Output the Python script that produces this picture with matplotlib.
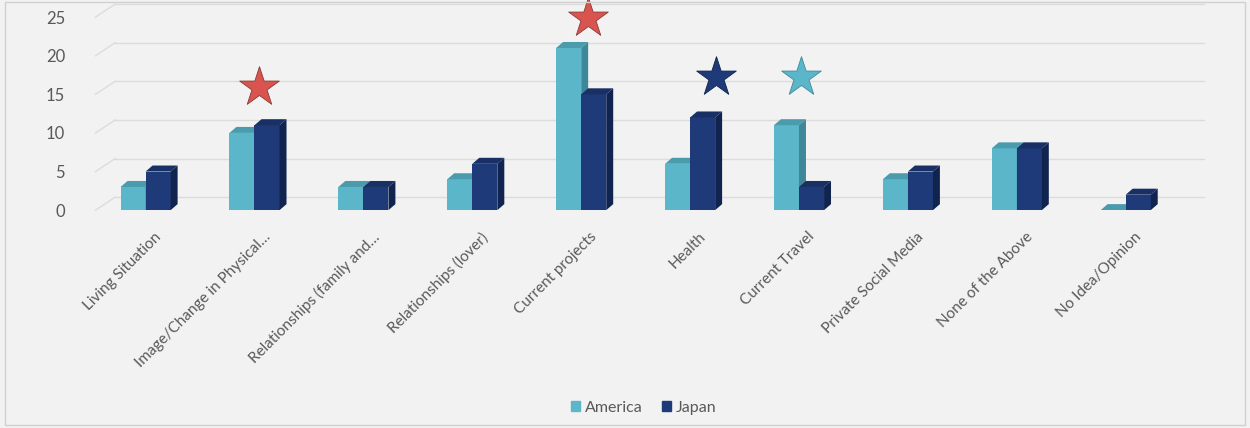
import matplotlib.pyplot as plt
from matplotlib.patches import Polygon, Rectangle
import numpy as np

plt.rcParams["font.family"] = ["Lato", "DejaVu Sans"]

categories = [
    "Living Situation",
    "Image/Change in Physical…",
    "Relationships (family and…",
    "Relationships (lover)",
    "Current projects",
    "Health",
    "Current Travel",
    "Private Social Media",
    "None of the Above",
    "No Idea/Opinion",
]
america = [3, 10, 3, 4, 21, 6, 11, 4, 8, 0]
japan = [5, 11, 3, 6, 15, 12, 3, 5, 8, 2]
yticks = [0, 5, 10, 15, 20, 25]

# highlight stars: (category index, x shift, height, colour, edge)
stars = [
    (1, 0.0, 15.9, "#d9544f", "#8a3a36"),
    (4, 0.02, 24.9, "#d9544f", "#8a3a36"),
    (5, 0.2, 17.2, "#1f3a78", "#10234a"),
    (6, -0.02, 17.2, "#5cb6ca", "#3c8a9a"),
]

AM_FRONT, AM_TOP, AM_SIDE = "#5cb6ca", "#4a9cad", "#3d8798"
JP_FRONT, JP_TOP, JP_SIDE = "#1f3a78", "#193065", "#112450"
BG = "#f2f2f2"
TXT = "#595959"
GRID = "#dcdcdc"

fig = plt.figure(figsize=(12.5, 4.28), dpi=100, facecolor=BG)
ax = fig.add_axes([0.0764, 0.509, 0.8712, 0.451])
ax.set_facecolor(BG)
ax.set_xlim(-0.5, 9.5)
ax.set_ylim(0, 25)

# bar depth and back-wall offset, in data units
dx, dy = 0.064, 0.78
wall_dx, wall_dy = 0.18, 1.68

for v in yticks:
    x0 = -0.5
    ax.plot([x0, x0 + wall_dx], [v, v + wall_dy], color=GRID, lw=1, clip_on=False, zorder=0)
    ax.plot([x0 + wall_dx, 9.5 + wall_dx], [v + wall_dy, v + wall_dy], color=GRID, lw=1,
            clip_on=False, zorder=0)

width = 0.23
x = np.arange(len(categories))


def bar3d(xc, h, front, top, side):
    left, right = xc - width / 2, xc + width / 2
    ax.add_patch(Rectangle((left, 0), width, h, facecolor=front, edgecolor="none", zorder=3))
    ax.add_patch(Polygon([(left, h), (right, h), (right + dx, h + dy), (left + dx, h + dy)],
                         closed=True, facecolor=top, edgecolor="none", zorder=3))
    ax.add_patch(Polygon([(right, 0), (right + dx, dy), (right + dx, h + dy), (right, h)],
                         closed=True, facecolor=side, edgecolor="none", zorder=3))


for i in x:
    bar3d(i - 0.04 - width / 2, america[i], AM_FRONT, AM_TOP, AM_SIDE)
    bar3d(i - 0.04 + width / 2, japan[i], JP_FRONT, JP_TOP, JP_SIDE)

for ci, shift, h, col, edge in stars:
    ax.scatter(ci + shift, h, marker="*", s=900, color=col, edgecolors=edge,
               linewidths=0.6, zorder=5, clip_on=False)

ax.set_yticks(yticks)
ax.set_yticklabels([str(v) for v in yticks], fontsize=12, color=TXT)
ax.tick_params(axis="y", length=0, pad=22)
ax.set_xticks(x + 0.04)
ax.set_xticklabels(categories, rotation=45, ha="right", rotation_mode="anchor",
                   fontsize=11, color=TXT)
ax.tick_params(axis="x", length=0, pad=14)
for s in ax.spines.values():
    s.set_visible(False)

handles = [Rectangle((0, 0), 1, 1, color=AM_FRONT), Rectangle((0, 0), 1, 1, color=JP_FRONT)]
fig.legend(handles, ["America", "Japan"], loc="center", bbox_to_anchor=(0.515, 0.047), ncol=2,
           frameon=False, fontsize=11.5, labelcolor=TXT, handlelength=0.6, handleheight=0.6,
           handletextpad=0.3, columnspacing=1.2)

fig.patches.append(Rectangle((0.004, 0.006), 0.992, 0.99, transform=fig.transFigure,
                             fill=False, edgecolor="#d0d0d0", lw=1))

fig.savefig("out.png", dpi=100, facecolor=BG)
